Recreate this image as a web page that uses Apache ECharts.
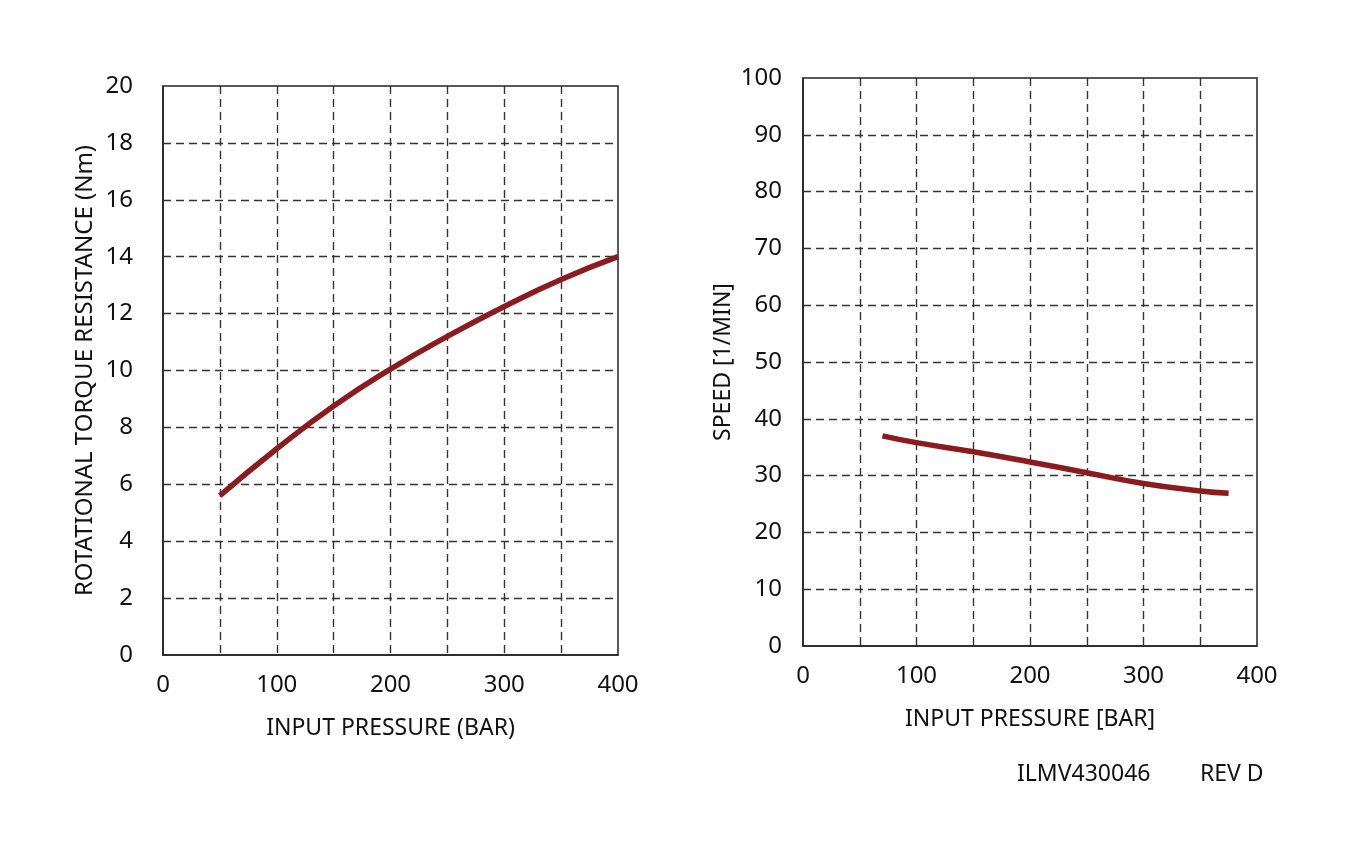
<!DOCTYPE html>
<html>
<head>
<meta charset="utf-8">
<script src="https://cdn.jsdelivr.net/npm/echarts@6/dist/echarts.min.js"></script>
<style>
  html, body { margin: 0; padding: 0; background: #fff; }
  #chart { width: 1353px; height: 844px; }
</style>
</head>
<body>
<div id="chart"></div>
<script>
// torque vs pressure (left panel)
const torquePressure = [50, 100, 150, 200, 250, 300, 350, 400];
const torqueValues = [5.6, 7.25, 8.75, 10.05, 11.2, 12.25, 13.2, 14.0];

// speed vs pressure (right panel)
const speedPressure = [70, 100, 150, 200, 250, 300, 350, 375];
const speedValues = [37, 35.8, 34.2, 32.4, 30.5, 28.6, 27.3, 26.9];

const xTickLabels = [0, 100, 200, 300, 400];

const font = "Noto Sans";
const lineColor = "#8c1b20";
const gridDash = { color: "#333", width: 1.4, type: [8, 5] };

const chart = echarts.init(document.getElementById("chart"));

const xAxisBase = (gridIndex, name) => ({
  type: "value",
  gridIndex,
  min: 0,
  max: 400,
  interval: 50,
  name,
  nameLocation: "middle",
  nameGap: 62,
  nameTextStyle: { fontFamily: font, fontSize: 23, color: "#111" },
  axisLine: { show: true, lineStyle: { color: "#222", width: 1.5 } },
  axisTick: { show: false },
  axisLabel: {
    fontFamily: font,
    fontSize: 24,
    color: "#111",
    margin: 18,
    formatter: (v) => (xTickLabels.includes(v) ? String(v) : ""),
  },
  splitLine: { show: true, showMinLine: false, showMaxLine: false, lineStyle: gridDash },
});

const yAxisBase = (gridIndex, name, max, interval, labelMargin, nameGap, nameSize) => ({
  type: "value",
  gridIndex,
  min: 0,
  max,
  interval,
  name,
  nameLocation: "middle",
  nameGap,
  nameTextStyle: { fontFamily: font, fontSize: nameSize, color: "#111" },
  axisLine: { show: true, lineStyle: { color: "#222", width: 1.5 } },
  axisTick: { show: false },
  axisLabel: { fontFamily: font, fontSize: 24, color: "#111", margin: labelMargin },
  splitLine: { show: true, showMinLine: false, showMaxLine: false, lineStyle: gridDash },
});

const option = {
  backgroundColor: "#fff",
  animation: false,
  grid: [
    { left: 163, top: 86, width: 455, height: 569, show: true, borderColor: "#222", borderWidth: 1.5 },
    { left: 803, top: 78, width: 454, height: 568, show: true, borderColor: "#222", borderWidth: 1.5 },
  ],
  xAxis: [
    xAxisBase(0, "INPUT PRESSURE (BAR)"),
    xAxisBase(1, "INPUT PRESSURE [BAR]"),
  ],
  yAxis: [
    yAxisBase(0, "ROTATIONAL TORQUE RESISTANCE (Nm)", 20, 2, 30, 66, 24),
    yAxisBase(1, "SPEED [1/MIN]", 100, 10, 21, 68, 23),
  ],
  series: [
    {
      type: "line",
      xAxisIndex: 0,
      yAxisIndex: 0,
      smooth: true,
      symbol: "none",
      lineStyle: { color: lineColor, width: 5.5 },
      data: torquePressure.map((p, i) => [p, torqueValues[i]]),
    },
    {
      type: "line",
      xAxisIndex: 1,
      yAxisIndex: 1,
      smooth: true,
      symbol: "none",
      lineStyle: { color: lineColor, width: 5.5 },
      data: speedPressure.map((p, i) => [p, speedValues[i]]),
    },
  ],
  graphic: [
    {
      type: "text",
      left: 1017,
      top: 763,
      style: { text: "ILMV430046", fontFamily: font, fontSize: 23, fill: "#111" },
    },
    {
      type: "text",
      left: 1200,
      top: 763,
      style: { text: "REV D", fontFamily: font, fontSize: 23, fill: "#111" },
    },
  ],
};

chart.setOption(option);
</script>
</body>
</html>
